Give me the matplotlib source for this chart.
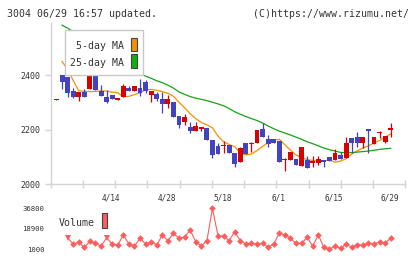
import numpy as np
import matplotlib.pyplot as plt
from matplotlib.patches import Rectangle

W, H = 420, 259

# daily candles, oldest first (index 0 .. 60)
opens  = [2310, 2400, 2394, 2341, 2320, 2338, 2350, 2411, 2342, 2319,
          2327, 2308, 2320, 2351, 2342, 2352, 2374, 2328, 2330, 2312,
          2295, 2301, 2250, 2228, 2210, 2196, 2202, 2205, 2161, 2139,
          2138, 2143, 2113, 2082, 2152, 2148, 2152, 2202, 2165, 2165,
          2158, 2087, 2088, 2092, 2067, 2088, 2076, 2076, 2088, 2100,
          2088, 2106, 2094, 2169, 2172, 2149, 2201, 2145, 2186, 2155,
          2198]
highs  = [2312, 2400, 2394, 2351, 2339, 2349, 2400, 2413, 2363, 2345,
          2327, 2316, 2366, 2360, 2361, 2384, 2382, 2341, 2339, 2339,
          2327, 2301, 2250, 2257, 2228, 2228, 2208, 2205, 2161, 2150,
          2159, 2143, 2113, 2137, 2152, 2155, 2198, 2223, 2180, 2165,
          2158, 2094, 2119, 2092, 2135, 2103, 2103, 2103, 2088, 2100,
          2127, 2119, 2174, 2169, 2190, 2172, 2201, 2172, 2195, 2176,
          2223]
lows   = [2310, 2349, 2320, 2317, 2306, 2320, 2350, 2345, 2324, 2296,
          2311, 2308, 2320, 2342, 2342, 2324, 2335, 2302, 2303, 2262,
          2278, 2245, 2207, 2217, 2186, 2196, 2196, 2161, 2095, 2110,
          2113, 2113, 2064, 2082, 2110, 2119, 2152, 2174, 2137, 2149,
          2082, 2049, 2088, 2070, 2067, 2060, 2064, 2070, 2064, 2086,
          2088, 2092, 2094, 2115, 2135, 2131, 2115, 2145, 2168, 2149,
          2174]
closes = [2312, 2376, 2333, 2320, 2339, 2320, 2397, 2345, 2324, 2302,
          2311, 2316, 2361, 2342, 2361, 2333, 2342, 2341, 2313, 2295,
          2312, 2247, 2215, 2245, 2194, 2214, 2208, 2161, 2106, 2110,
          2143, 2113, 2073, 2131, 2110, 2152, 2198, 2174, 2147, 2149,
          2082, 2092, 2119, 2070, 2135, 2060, 2084, 2090, 2080, 2086,
          2113, 2092, 2152, 2152, 2149, 2172, 2196, 2172, 2190, 2176,
          2204]

# moving averages start at index 1
ma5  = [2450, 2420, 2380, 2342, 2340, 2339, 2340, 2342, 2341, 2337,
        2335, 2320, 2322, 2328, 2335, 2346, 2347, 2344, 2339, 2333,
        2322, 2300, 2280, 2258, 2240, 2226, 2217, 2206, 2176, 2155,
        2145, 2137, 2113, 2107, 2110, 2123, 2138, 2152, 2161, 2164,
        2144, 2124, 2107, 2096, 2090, 2086, 2084, 2085, 2088, 2080,
        2084, 2093, 2110, 2122, 2132, 2140, 2150, 2160, 2172, 2184]
ma25 = [2583, 2572, 2560, 2548, 2535, 2522, 2508, 2495, 2480, 2466,
        2452, 2438, 2425, 2412, 2403, 2396, 2388, 2379, 2372, 2363,
        2352, 2338, 2329, 2321, 2315, 2311, 2306, 2300, 2294, 2287,
        2277, 2265, 2256, 2248, 2240, 2233, 2224, 2213, 2203, 2194,
        2187, 2180, 2172, 2164, 2155, 2148, 2140, 2132, 2126, 2121,
        2116, 2115, 2115, 2117, 2119, 2121, 2124, 2127, 2129, 2131]

# volume starts at index 2
volume = [11100, 5600, 7100, 2700, 8000, 6200, 3900, 11100, 5600, 4800,
          13500, 5600, 3900, 10600, 5600, 7600, 4800, 13500, 8500, 15000,
          10600, 11500, 17800, 7600, 3900, 8500, 36800, 12600, 12600, 8500,
          16400, 8500, 5600, 6200, 5600, 6200, 2700, 5600, 15000, 13700,
          10600, 6200, 6200, 11500, 3900, 13500, 2700, 1000, 3900, 1900,
          5600, 2700, 4800, 4800, 6200, 5600, 7600, 6800, 10600]

date_labels = ['4/14', '4/28', '5/18', '6/1', '6/15', '6/29']
date_pos = [10, 20, 30, 40, 50, 60]

red = '#d90000'
blue = '#4343c0'
orange = '#f39200'
green = '#17a317'
vcol = '#ff5c5c'
grid = '#d4d4d4'
txt = '#333333'
mono = 'DejaVu Sans Mono'

fig = plt.figure(figsize=(W / 100, H / 100), dpi=100)

def px(x0, y0, x1, y1):
    return [x0 / W, 1 - y1 / H, (x1 - x0) / W, (y1 - y0) / H]

xlim = (-1.04, 62.62)
ax = fig.add_axes(px(50.7, 23, 405.3, 184))
ax.set_xlim(*xlim)
ax.set_ylim(2000, 2591)

o = np.array(opens, float)
c = np.array(closes, float)
idx = np.arange(len(o))
cols = np.where(c >= o, red, blue)
ax.vlines(idx, lows, highs, colors=cols, lw=0.9, zorder=3)
ax.bar(idx, np.maximum(np.abs(c - o), 2.5), bottom=np.minimum(o, c),
       width=0.88, color=cols, linewidth=0, zorder=3)

ax.plot(np.arange(1, 1 + len(ma5)), ma5, color=orange, lw=0.9, zorder=2)
ax.plot(np.arange(1, 1 + len(ma25)), ma25, color=green, lw=0.9, zorder=2)

for s in ['top', 'right']:
    ax.spines[s].set_visible(False)
for s in ['left', 'bottom']:
    ax.spines[s].set_color(grid)
    ax.spines[s].set_linewidth(1.0)
ax.set_yticks([2000, 2200, 2400])
ax.tick_params(axis='y', direction='out', length=4.6, width=1.0, color=grid,
               labelsize=6, labelcolor=txt, pad=3)
for lab in ax.get_yticklabels():
    lab.set_family(mono)
ax.set_xticks(np.linspace(xlim[0], xlim[1], 12))
ax.tick_params(axis='x', direction='inout', length=6, width=1.0, color=grid,
               labelbottom=False)
for p, lab in zip(date_pos, date_labels):
    ax.text(p - 0.2, -0.084, lab, transform=ax.get_xaxis_transform(),
            ha='center', va='center', fontsize=5.6, family=mono, color=txt)

# legend box of the moving averages
ax.add_patch(Rectangle((0.0403, 0.677), 0.2208, 0.28, transform=ax.transAxes,
                       facecolor='white', edgecolor='#c8c8c8', lw=1.0,
                       zorder=5))
fig.text(124.5 / W, 1 - 46 / H, '5-day MA', ha='right', va='center',
         fontsize=7.1, family=mono, color=txt)
fig.text(124.5 / W, 1 - 62.5 / H, '25-day MA', ha='right', va='center',
         fontsize=7.1, family=mono, color=txt)
fig.add_artist(Rectangle((131 / W, 1 - 51 / H), 6 / W, 13 / H,
                         facecolor=orange, edgecolor='#444444', lw=0.8))
fig.add_artist(Rectangle((131 / W, 1 - 68 / H), 6 / W, 14 / H,
                         facecolor='#10b010', edgecolor='#444444', lw=0.8))

# volume panel
vax = fig.add_axes(px(50.7, 203, 405.3, 253))
vax.set_xlim(*xlim)
vax.set_ylim(-2230, 41420)
vidx = np.arange(2, 2 + len(volume))
tri = [0, 7]
keep = [i for i in range(len(volume)) if i not in tri]
vax.plot(vidx, volume, color=vcol, lw=0.8, marker='D', markersize=3.4,
         markevery=keep, markeredgewidth=0)
vax.plot(vidx[tri], np.array(volume)[tri], ls='none', marker='v',
         markersize=4.0, color=vcol, markeredgewidth=0)
for s in vax.spines.values():
    s.set_visible(False)
vax.set_xticks([])
vax.set_yticks([1000, 18900, 36800])
vax.tick_params(axis='y', length=0, labelsize=5.2, labelcolor=txt, pad=4.6)
for lab in vax.get_yticklabels():
    lab.set_family(mono)
fig.text(58.3 / W, 1 - 222.5 / H, 'Volume', ha='left', va='center',
         fontsize=7.1, family=mono, color=txt)
fig.add_artist(Rectangle((101.7 / W, 1 - 228 / H), 5.6 / W, 15 / H,
                         facecolor=vcol, edgecolor='#444444', lw=0.8))

fig.text(7 / W, 1 - 14 / H, '3004 06/29 16:57 updated.', ha='left',
         va='center', fontsize=7.1, family=mono, color=txt)
fig.text(409 / W, 1 - 14 / H, '(C)https://www.rizumu.net/', ha='right',
         va='center', fontsize=7.1, family=mono, color=txt)

fig.savefig('out.png', dpi=100, facecolor='white')
